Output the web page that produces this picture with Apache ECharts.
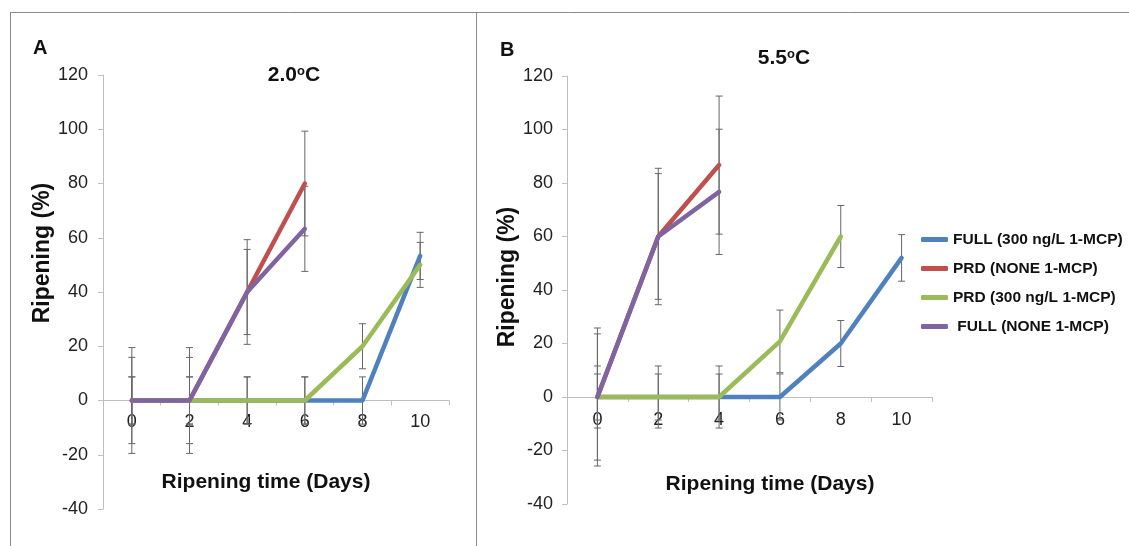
<!DOCTYPE html>
<html>
<head>
<meta charset="utf-8">
<script src="https://cdn.jsdelivr.net/npm/echarts@6/dist/echarts.min.js"></script>
<style>
  html, body { margin: 0; padding: 0; background: #fff; }
  #chart { width: 1129px; height: 546px; }
</style>
</head>
<body>
<div id="chart"></div>
<script>
// ---------- data ----------
const categories = ['0', '2', '4', '6', '8', '10'];
const seriesNames = ['FULL (300 ng/L 1-MCP)', 'PRD (NONE 1-MCP)', 'PRD (300 ng/L 1-MCP)', 'FULL (NONE 1-MCP)'];
const seriesColors = ['#4F81BD', '#C0504D', '#9BBB59', '#8064A2'];
const yTicks = { min: -40, max: 120, interval: 20 };

// Panel A (2.0 °C)
const aFull300     = [0, 0, 0, 0, 0, 53.3];
const aPrdNone     = [0, 0, 40, 80, null, null];
const aPrd300      = [0, 0, 0, 0, 20, 50];
const aFullNone    = [0, 0, 40, 63.3, null, null];
const aFull300Err  = [8.7, 8.7, 8.7, 8.7, 8.7, 8.7];
const aPrdNoneErr  = [19.5, 19.5, 19.3, 19.3, null, null];
const aPrd300Err   = [8.7, 8.7, 8.7, 8.7, 8.3, 8.3];
const aFullNoneErr = [15.9, 15.9, 15.7, 15.7, null, null];

// Panel B (5.5 °C)
const bFull300     = [0, 0, 0, 0, 20, 52];
const bPrdNone     = [0, 60, 86.7, null, null, null];
const bPrd300      = [0, 0, 0, 20.8, 60, null];
const bFullNone    = [0, 60, 76.7, null, null, null];
const bFull300Err  = [8.6, 8.6, 8.6, 8.6, 8.6, 8.7];
const bPrdNoneErr  = [25.8, 25.5, 25.8, null, null, null];
const bPrd300Err   = [11.6, 11.6, 11.6, 11.7, 11.6, null];
const bFullNoneErr = [23.6, 23.5, 23.4, null, null, null];

// ---------- build ----------
const FONT = '"Liberation Sans", Arial, sans-serif';
const axisGrey = '#BFBFBF';

function errSeries(idx, vals, errs) {
  const data = [];
  vals.forEach((v, i) => { if (v != null && errs[i] != null) data.push([i, v, errs[i]]); });
  return {
    type: 'custom', xAxisIndex: idx, yAxisIndex: idx, z: 1, silent: true,
    data: data,
    renderItem: function (params, api) {
      const x = api.value(0), v = api.value(1), e = api.value(2);
      const hi = api.coord([x, v + e]);
      const lo = api.coord([x, v - e]);
      const w = 3.5;
      const st = { stroke: '#666', lineWidth: 1 };
      return {
        type: 'group',
        children: [
          { type: 'line', shape: { x1: hi[0], y1: hi[1], x2: lo[0], y2: lo[1] }, style: st },
          { type: 'line', shape: { x1: hi[0] - w, y1: hi[1], x2: hi[0] + w, y2: hi[1] }, style: st },
          { type: 'line', shape: { x1: lo[0] - w, y1: lo[1], x2: lo[0] + w, y2: lo[1] }, style: st }
        ]
      };
    }
  };
}

function lineSeries(idx, name, vals, color) {
  return {
    type: 'line', name: name, xAxisIndex: idx, yAxisIndex: idx, z: 2,
    data: vals, showSymbol: false, symbol: 'none', connectNulls: false,
    itemStyle: { color: color },
    lineStyle: { color: color, width: 4.5, cap: 'round', join: 'round' }
  };
}

const panels = [
  { vals: [aFull300, aPrdNone, aPrd300, aFullNone], errs: [aFull300Err, aPrdNoneErr, aPrd300Err, aFullNoneErr] },
  { vals: [bFull300, bPrdNone, bPrd300, bFullNone], errs: [bFull300Err, bPrdNoneErr, bPrd300Err, bFullNoneErr] }
];

const series = [];
panels.forEach((p, idx) => {
  for (let k = 0; k < 4; k++) series.push(errSeries(idx, p.vals[k], p.errs[k]));
  for (let k = 0; k < 4; k++) series.push(lineSeries(idx, seriesNames[k], p.vals[k], seriesColors[k]));
});

function xAxisCfg(idx, nameGap, namePad, labelMargin) {
  return {
    type: 'category', gridIndex: idx, data: categories, boundaryGap: true,
    name: 'Ripening time (Days)', nameLocation: 'middle', nameGap: nameGap, nameMoveOverlap: false,
    nameTextStyle: { fontFamily: FONT, fontSize: 21, fontWeight: 'bold', color: '#111', padding: namePad },
    axisLine: { onZero: true, lineStyle: { color: axisGrey, width: 1 } },
    axisTick: { show: true, length: 5, lineStyle: { color: axisGrey } },
    axisLabel: { fontFamily: FONT, fontSize: 18, color: '#222', margin: labelMargin },
    splitLine: { show: false }
  };
}
function yAxisCfg(idx, nameGap, namePad, labelMargin) {
  return {
    type: 'value', gridIndex: idx, min: yTicks.min, max: yTicks.max, interval: yTicks.interval,
    name: 'Ripening (%)', nameLocation: 'middle', nameGap: nameGap,
    nameTextStyle: { fontFamily: FONT, fontSize: 23, fontWeight: 'bold', color: '#111', padding: namePad },
    axisLine: { show: true, lineStyle: { color: axisGrey, width: 1 } },
    axisTick: { show: true, length: 5, lineStyle: { color: axisGrey } },
    axisLabel: { fontFamily: FONT, fontSize: 18, color: '#222', margin: labelMargin },
    splitLine: { show: false }
  };
}

const titleStyle = {
  fontFamily: FONT, fontSize: 21, fontWeight: 'bold', color: '#111',
  rich: { s: { fontFamily: FONT, fontSize: 13, fontWeight: 'bold', color: '#111', verticalAlign: 'top', padding: [0, 0, 8, 0] } }
};
const letterStyle = { fontFamily: FONT, fontSize: 20, fontWeight: 'bold', color: '#111' };

const option = {
  animation: false,
  backgroundColor: '#fff',
  title: [
    { text: 'A', left: 33, top: 38, padding: 0, textStyle: letterStyle },
    { text: 'B', left: 500, top: 40, padding: 0, textStyle: letterStyle },
    { text: '2.0{s|o}C', left: 294, textAlign: 'center', top: 65, padding: 0, textStyle: titleStyle },
    { text: '5.5{s|o}C', left: 784, textAlign: 'center', top: 48, padding: 0, textStyle: titleStyle }
  ],
  legend: {
    orient: 'vertical', left: 916, top: 225, itemWidth: 27, itemHeight: 5, itemGap: 10,
    icon: 'roundRect',
    data: seriesNames,
    formatter: function (n) { return n === 'FULL (NONE 1-MCP)' ? ' ' + n : n; },
    textStyle: { fontFamily: FONT, fontSize: 15.5, fontWeight: 'bold', color: '#111', lineHeight: 19 }
  },
  grid: [
    { left: 103, top: 75, width: 346, height: 434, outerBoundsMode: 'none', containLabel: false },
    { left: 567, top: 76, width: 365, height: 428, outerBoundsMode: 'none', containLabel: false }
  ],
  xAxis: [ xAxisCfg(0, -37, [0, 20, 0, 0], -96), xAxisCfg(1, -30, [0, 0, 0, 41], -93) ],
  yAxis: [ yAxisCfg(0, 49, [0, 0, 0, 78], 15), yAxisCfg(1, 46, [0, 0, 0, 26], 14) ],
  series: series,
  graphic: [
    { type: 'line', shape: { x1: 10, y1: 12.5, x2: 1129, y2: 12.5 }, style: { stroke: '#8a8a8a', lineWidth: 1 }, silent: true },
    { type: 'line', shape: { x1: 10.5, y1: 12, x2: 10.5, y2: 546 }, style: { stroke: '#8a8a8a', lineWidth: 1 }, silent: true },
    { type: 'line', shape: { x1: 476.5, y1: 12, x2: 476.5, y2: 546 }, style: { stroke: '#8a8a8a', lineWidth: 1 }, silent: true }
  ]
};

const chart = echarts.init(document.getElementById('chart'), null, { renderer: 'canvas' });
chart.setOption(option);
</script>
</body>
</html>
